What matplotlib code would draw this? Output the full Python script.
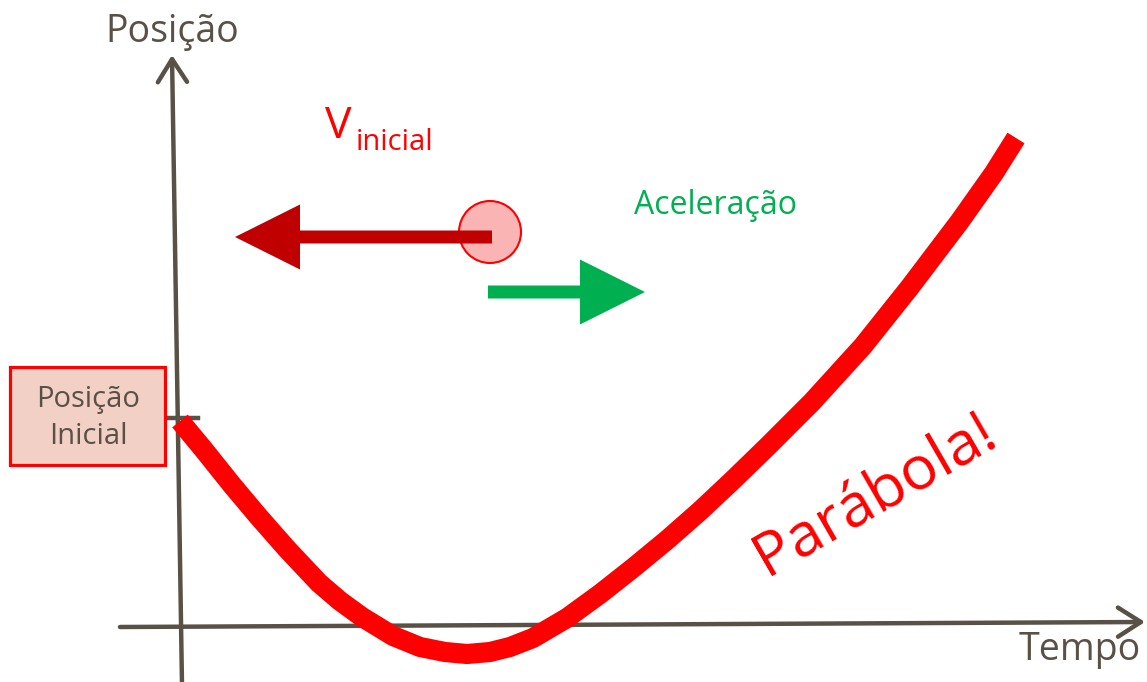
import numpy as np
import matplotlib.pyplot as plt
from matplotlib.patches import Rectangle, Circle, FancyArrow

plt.rcParams['font.family'] = ['Open Sans', 'DejaVu Sans']

# curve (tempo, posicao), 1 unit = 100 px
tempo = np.array([0.00, 0.24, 0.52, 0.78, 1.07, 1.39, 1.60, 1.82, 2.13, 2.40,
                  2.65, 2.87, 3.10, 3.30, 3.53, 3.87, 4.20, 4.53, 4.87, 5.20,
                  5.53, 5.88, 6.32, 6.83, 7.30, 7.80, 8.14, 8.36])
posicao = np.array([2.04, 1.75, 1.40, 1.09, 0.76, 0.42, 0.24, 0.08, -0.11, -0.22,
                    -0.27, -0.29, -0.27, -0.22, -0.13, 0.07, 0.31, 0.57, 0.85, 1.14,
                    1.45, 1.79, 2.23, 2.79, 3.38, 4.04, 4.52, 4.87])
pos_inicial = 2.07

eixo = '#595046'
vermelho = '#ff0000'
verde = '#00b050'

fig = plt.figure(figsize=(11.47, 6.82), dpi=100)
ax = fig.add_axes([0, 0, 1, 1])
ax.set_xlim(-1.80, 9.67)
ax.set_ylim(-0.57, 6.25)
ax.axis('off')

# axes drawn as arrows
seta = dict(arrowstyle='->,head_length=0.55,head_width=0.35', lw=3.2, color=eixo,
            mutation_scale=30, shrinkA=0, shrinkB=0, capstyle='round')
ax.annotate('', xy=(9.65, 0.03), xytext=(-0.60, -0.02), arrowprops=seta)
ax.annotate('', xy=(-0.08, 5.70), xytext=(0.02, -0.60), arrowprops=seta)
ax.plot([-0.23, 0.18], [pos_inicial, pos_inicial], color=eixo, lw=3.2, zorder=2)

ax.text(-0.08, 5.93, 'Posição', fontsize=27, color=eixo, ha='center', va='center')
ax.text(9.0, -0.25, 'Tempo', fontsize=27, color=eixo, ha='center', va='center')

# the parabola
ax.plot(tempo, posicao, color=vermelho, lw=14.5, solid_capstyle='butt',
        solid_joinstyle='round', zorder=3)

# initial position box
ax.add_patch(Rectangle((-1.70, 1.60), 1.55, 0.98, facecolor='#f3d0c5',
                       edgecolor=vermelho, lw=2.3, zorder=4))
ax.text(-0.92, 2.07, 'Posição\nInicial', fontsize=21, color=eixo, ha='center',
        va='center', linespacing=1.4, zorder=5)

# body with velocity and acceleration
ax.add_patch(Circle((3.10, 3.93), 0.31, facecolor='#fab4b4', edgecolor=vermelho,
                    lw=1.5, zorder=4))
ax.add_patch(FancyArrow(3.12, 3.88, -2.57, 0.0, width=0.13, head_width=0.65,
                        head_length=0.65, length_includes_head=True,
                        color='#c00000', lw=0, zorder=5))
ax.add_patch(FancyArrow(3.08, 3.33, 1.57, 0.0, width=0.13, head_width=0.65,
                        head_length=0.65, length_includes_head=True,
                        color=verde, lw=0, zorder=5))

ax.text(1.45, 4.87, 'V', fontsize=32, color=vermelho, ha='left', va='baseline')
ax.text(1.76, 4.75, 'inicial', fontsize=21, color=vermelho, ha='left', va='baseline')
ax.text(5.35, 4.20, 'Aceleração', fontsize=23, color=verde, ha='center', va='center')

ax.text(6.95, 1.30, 'Parábola!', fontsize=44, color=vermelho, rotation=30,
        rotation_mode='anchor', ha='center', va='center')

plt.savefig('out.png', dpi=100)
